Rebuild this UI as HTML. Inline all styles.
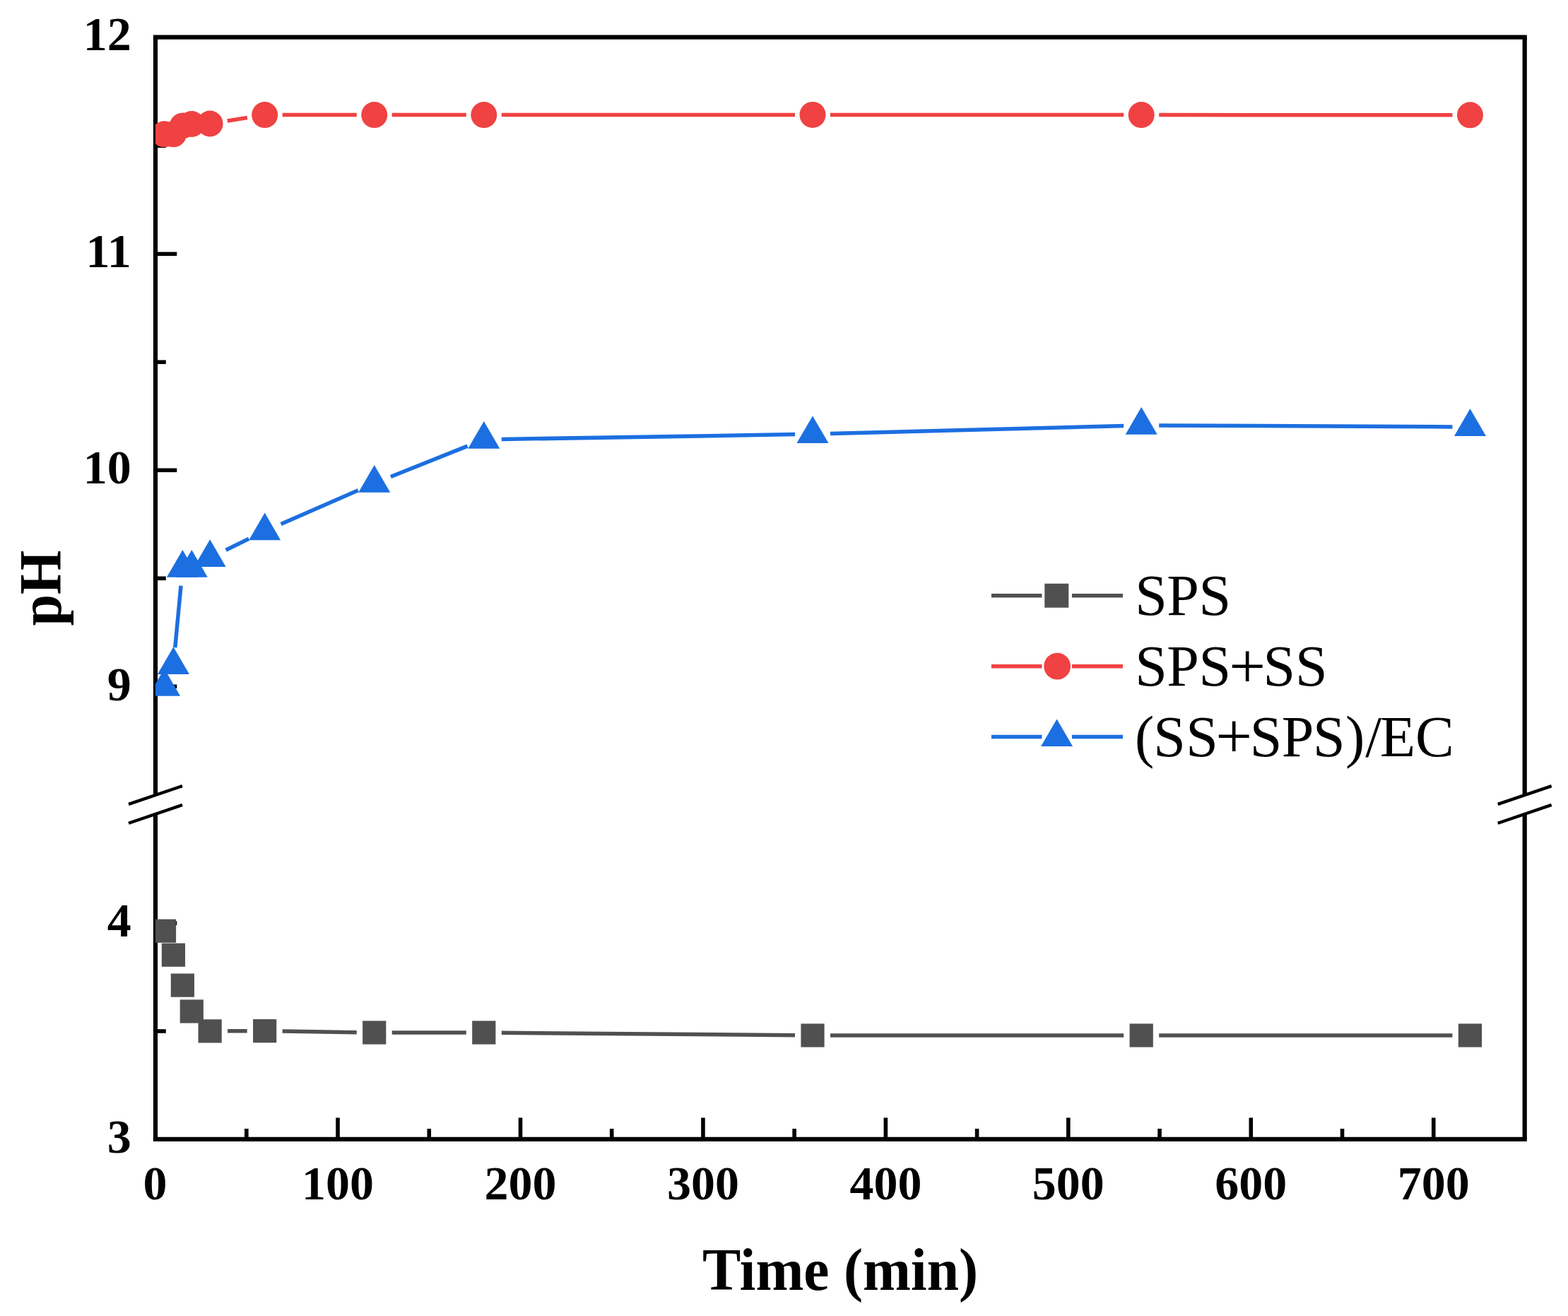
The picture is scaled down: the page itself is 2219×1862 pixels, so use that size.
<!DOCTYPE html><html><head><meta charset="utf-8"><style>html,body{margin:0;padding:0;background:#fff;}svg{display:block;}</style></head><body><svg width="2219" height="1862" viewBox="0 0 2219 1862"><defs><clipPath id="pc"><rect x="220.00" y="52.60" width="1937.70" height="1559.20"/></clipPath></defs><rect width="100%" height="100%" fill="#fff"/><g stroke="#000" stroke-width="6.2" fill="none" stroke-linecap="butt"><line x1="216.90" y1="52.6" x2="2160.80" y2="52.6"/><line x1="216.90" y1="1611.8" x2="2160.80" y2="1611.8"/><line x1="220.0" y1="52.6" x2="220.0" y2="1125.0"/><line x1="220.0" y1="1151.8" x2="220.0" y2="1611.8"/><line x1="2157.7" y1="52.6" x2="2157.7" y2="1125.0"/><line x1="2157.7" y1="1151.8" x2="2157.7" y2="1611.8"/></g><g stroke="#000" stroke-width="5.6" fill="none"><line x1="478.05" y1="1611.8" x2="478.05" y2="1581.5"/><line x1="736.50" y1="1611.8" x2="736.50" y2="1581.5"/><line x1="994.95" y1="1611.8" x2="994.95" y2="1581.5"/><line x1="1253.40" y1="1611.8" x2="1253.40" y2="1581.5"/><line x1="1511.85" y1="1611.8" x2="1511.85" y2="1581.5"/><line x1="1770.30" y1="1611.8" x2="1770.30" y2="1581.5"/><line x1="2028.75" y1="1611.8" x2="2028.75" y2="1581.5"/><line x1="348.82" y1="1611.8" x2="348.82" y2="1597.0"/><line x1="607.27" y1="1611.8" x2="607.27" y2="1597.0"/><line x1="865.73" y1="1611.8" x2="865.73" y2="1597.0"/><line x1="1124.17" y1="1611.8" x2="1124.17" y2="1597.0"/><line x1="1382.62" y1="1611.8" x2="1382.62" y2="1597.0"/><line x1="1641.07" y1="1611.8" x2="1641.07" y2="1597.0"/><line x1="1899.52" y1="1611.8" x2="1899.52" y2="1597.0"/><line x1="220.0" y1="359.30" x2="250.3" y2="359.30"/><line x1="220.0" y1="665.30" x2="250.3" y2="665.30"/><line x1="220.0" y1="971.30" x2="250.3" y2="971.30"/><line x1="220.0" y1="206.30" x2="234.8" y2="206.30"/><line x1="220.0" y1="512.30" x2="234.8" y2="512.30"/><line x1="220.0" y1="818.30" x2="234.8" y2="818.30"/><line x1="220.0" y1="1306.20" x2="250.3" y2="1306.20"/><line x1="220.0" y1="1459.00" x2="234.8" y2="1459.00"/></g><g stroke="#000" stroke-width="4.4" fill="none"><line x1="182.00" y1="1137.92" x2="258.00" y2="1112.08"/><line x1="182.00" y1="1164.72" x2="258.00" y2="1138.88"/><line x1="2119.70" y1="1137.92" x2="2195.70" y2="1112.08"/><line x1="2119.70" y1="1164.72" x2="2195.70" y2="1138.88"/></g><g clip-path="url(#pc)"><g stroke="#505050" stroke-width="5.5" fill="none"><line x1="322.13" y1="1458.84" x2="349.67" y2="1458.76"/><line x1="399.67" y1="1459.07" x2="504.74" y2="1460.63"/><line x1="554.74" y1="1461.00" x2="659.81" y2="1461.00"/><line x1="709.81" y1="1461.21" x2="1125.02" y2="1464.79"/><line x1="1175.02" y1="1465.00" x2="1590.23" y2="1465.00"/><line x1="1640.23" y1="1465.00" x2="2055.44" y2="1465.00"/></g><g stroke="#F04242" stroke-width="5.5" fill="none"><line x1="321.82" y1="171.05" x2="349.98" y2="166.55"/><line x1="399.67" y1="162.60" x2="504.74" y2="162.60"/><line x1="554.74" y1="162.60" x2="659.81" y2="162.60"/><line x1="709.81" y1="162.59" x2="1125.02" y2="162.41"/><line x1="1175.02" y1="162.41" x2="1590.23" y2="162.59"/><line x1="1640.23" y1="162.61" x2="2055.44" y2="162.79"/></g><g stroke="#1C6FE0" stroke-width="5.5" fill="none"><line x1="247.79" y1="916.21" x2="256.02" y2="828.79"/><line x1="319.62" y1="778.17" x2="352.19" y2="762.33"/><line x1="397.59" y1="741.41" x2="506.82" y2="693.79"/><line x1="552.96" y1="674.53" x2="661.59" y2="631.17"/><line x1="709.81" y1="621.49" x2="1125.02" y2="614.61"/><line x1="1175.01" y1="613.53" x2="1590.24" y2="602.47"/><line x1="1640.23" y1="601.92" x2="2055.44" y2="603.88"/></g><g fill="#505050"><rect x="215.92" y="1300.60" width="33.2" height="33.2"/><rect x="228.84" y="1334.60" width="33.2" height="33.2"/><rect x="241.77" y="1377.50" width="33.2" height="33.2"/><rect x="254.69" y="1414.40" width="33.2" height="33.2"/><rect x="280.53" y="1442.30" width="33.2" height="33.2"/><rect x="358.07" y="1442.10" width="33.2" height="33.2"/><rect x="513.14" y="1444.40" width="33.2" height="33.2"/><rect x="668.21" y="1444.40" width="33.2" height="33.2"/><rect x="1133.42" y="1448.40" width="33.2" height="33.2"/><rect x="1598.63" y="1448.40" width="33.2" height="33.2"/><rect x="2063.84" y="1448.40" width="33.2" height="33.2"/></g><g fill="#F04242"><circle cx="232.52" cy="189.80" r="18.5"/><circle cx="245.44" cy="189.80" r="18.5"/><circle cx="258.37" cy="178.00" r="18.5"/><circle cx="271.29" cy="175.50" r="18.5"/><circle cx="297.13" cy="175.00" r="18.5"/><circle cx="374.67" cy="162.60" r="18.5"/><circle cx="529.74" cy="162.60" r="18.5"/><circle cx="684.81" cy="162.60" r="18.5"/><circle cx="1150.02" cy="162.40" r="18.5"/><circle cx="1615.23" cy="162.60" r="18.5"/><circle cx="2080.44" cy="162.80" r="18.5"/></g><g fill="#1C6FE0"><polygon points="232.52,946.10 255.02,984.80 210.02,984.80"/><polygon points="245.44,915.30 267.94,954.00 222.94,954.00"/><polygon points="258.37,778.10 280.87,816.80 235.87,816.80"/><polygon points="271.29,778.10 293.79,816.80 248.79,816.80"/><polygon points="297.13,763.30 319.63,802.00 274.63,802.00"/><polygon points="374.67,725.60 397.17,764.30 352.17,764.30"/><polygon points="529.74,658.00 552.24,696.70 507.24,696.70"/><polygon points="684.81,596.10 707.31,634.80 662.31,634.80"/><polygon points="1150.02,588.40 1172.52,627.10 1127.52,627.10"/><polygon points="1615.23,576.00 1637.73,614.70 1592.73,614.70"/><polygon points="2080.44,578.20 2102.94,616.90 2057.94,616.90"/></g></g><g font-family="Liberation Serif, serif" font-weight="bold" font-size="68" fill="#000"><text x="219.60" y="1697" text-anchor="middle">0</text><text x="478.05" y="1697" text-anchor="middle">100</text><text x="736.50" y="1697" text-anchor="middle">200</text><text x="994.95" y="1697" text-anchor="middle">300</text><text x="1253.40" y="1697" text-anchor="middle">400</text><text x="1511.85" y="1697" text-anchor="middle">500</text><text x="1770.30" y="1697" text-anchor="middle">600</text><text x="2028.75" y="1697" text-anchor="middle">700</text><text x="185.7" y="71.4" text-anchor="end">12</text><text x="185.7" y="377.8" text-anchor="end">11</text><text x="185.7" y="684.4" text-anchor="end">10</text><text x="185.7" y="990.6" text-anchor="end">9</text><text x="185.7" y="1324.5" text-anchor="end">4</text><text x="185.7" y="1631.2" text-anchor="end">3</text></g><text transform="translate(1189.0,1825) scale(0.9706,1)" x="0" y="0" text-anchor="middle" font-family="Liberation Serif, serif" font-weight="bold" font-size="84">Time (min)</text><text transform="translate(85.7,832.0) rotate(-90) scale(0.955,1)" x="0" y="0" text-anchor="middle" font-family="Liberation Serif, serif" font-weight="bold" font-size="84">pH</text><g stroke="#505050" stroke-width="5.5"><line x1="1403" y1="842.75" x2="1474.5" y2="842.75"/><line x1="1517" y1="842.75" x2="1589" y2="842.75"/></g><g fill="#505050"><rect x="1478.30" y="825.75" width="34" height="34"/></g><text font-family="Liberation Serif, serif" font-size="82" fill="#000"><tspan x="1606.30 1651.16 1696.60" y="870.3">SPS</tspan></text><g stroke="#F04242" stroke-width="5.5"><line x1="1403" y1="942.7" x2="1474.5" y2="942.7"/><line x1="1517" y1="942.7" x2="1589" y2="942.7"/></g><g fill="#F04242"><circle cx="1496.20" cy="942.70" r="18.9"/></g><text font-family="Liberation Serif, serif" font-size="82" fill="#000"><tspan x="1606.30 1651.16 1696.60" y="970.3">SPS</tspan><tspan x="1739.20" y="973.25" font-size="92">+</tspan><tspan x="1787.40 1832.90" y="970.3">SS</tspan></text><g stroke="#1C6FE0" stroke-width="5.5"><line x1="1403" y1="1042.6" x2="1474.5" y2="1042.6"/><line x1="1517" y1="1042.6" x2="1589" y2="1042.6"/></g><g fill="#1C6FE0"><polygon points="1495.60,1017.40 1518.10,1056.10 1473.10,1056.10"/></g><text font-family="Liberation Serif, serif" font-size="82" fill="#000"><tspan x="1605.90 1632.20 1678.30" y="1070.2">(SS</tspan><tspan x="1720.30" y="1072.3" font-size="92">+</tspan><tspan x="1768.80 1813.66 1858.10 1903.93 1932.16 1953.07 2003.03" y="1070.2">SPS)/EC</tspan></text></svg></body></html>
